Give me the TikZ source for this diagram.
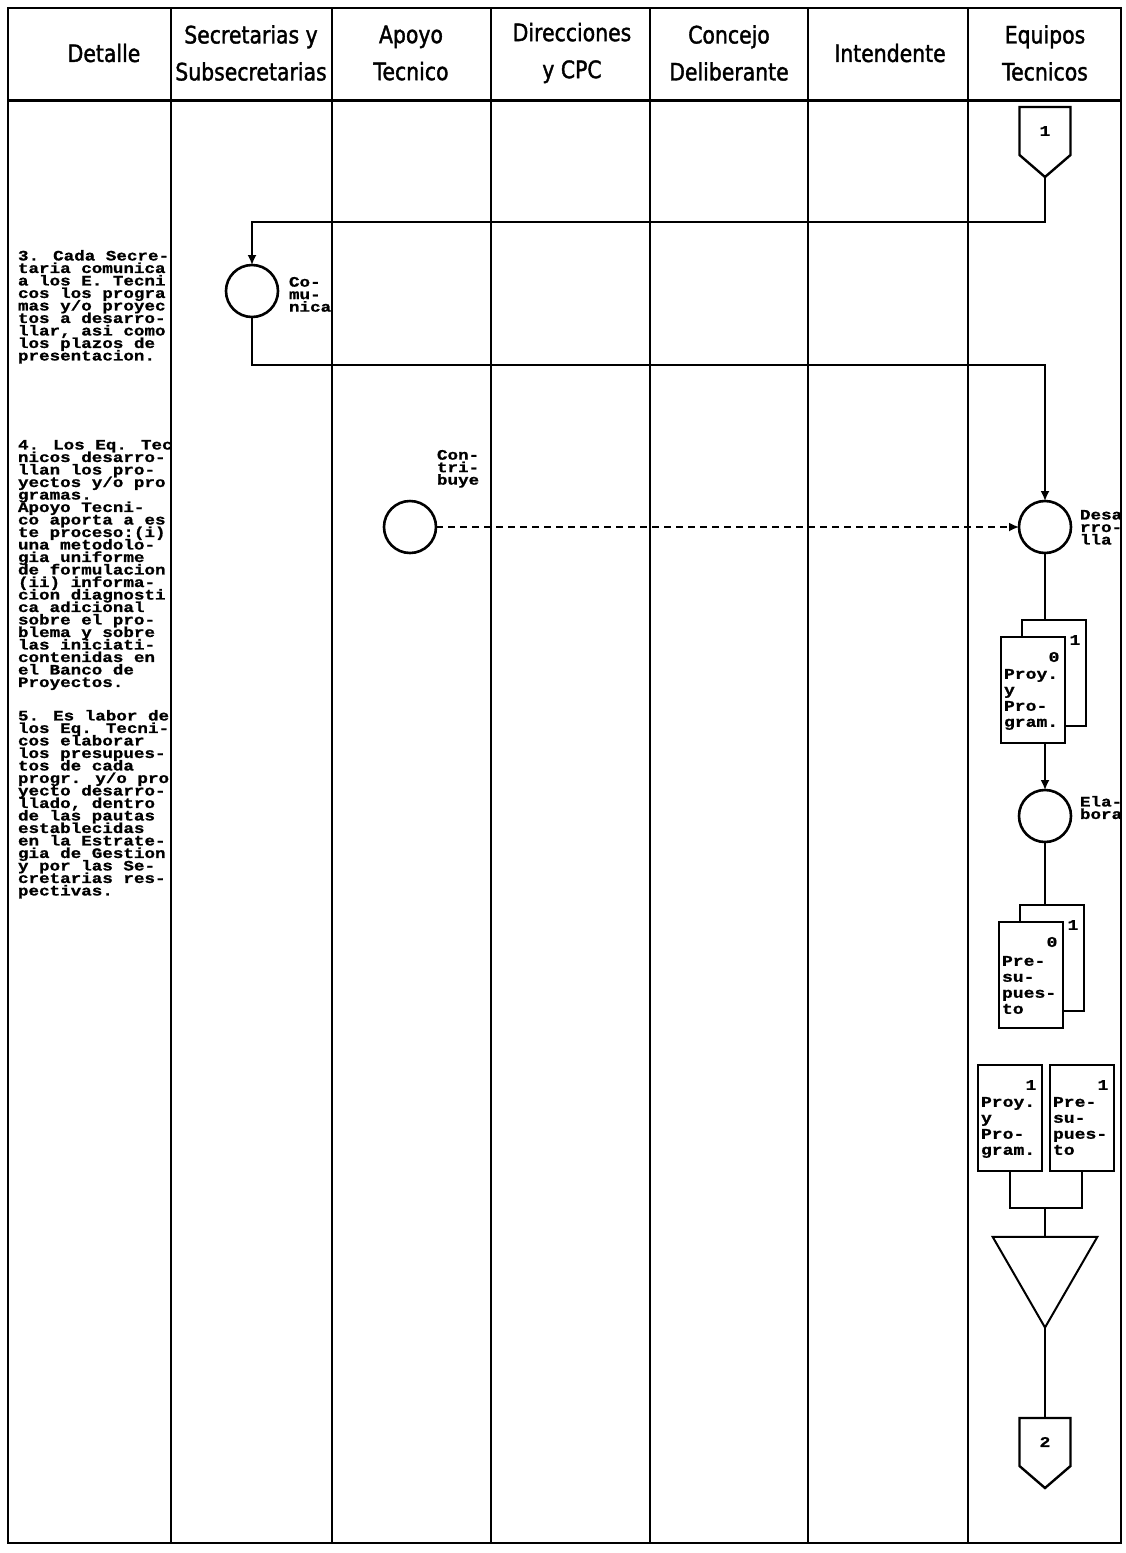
\documentclass[tikz,border=0pt]{standalone}
\usepackage{fontspec}
\usetikzlibrary{arrows.meta,shapes.geometric}
\newfontfamily\dotfont[FakeStretch=1.22,FakeBold=1]{Liberation Mono}
\newfontfamily\headfont[FakeStretch=0.85,FakeBold=1.5]{DejaVu Sans}
\newcommand\dotsize{\dotfont\bfseries\fontsize{7.2}{6.25}\selectfont}
\newcommand\docsize{\dotfont\bfseries\fontsize{7.4}{8}\selectfont}
\lineskiplimit=-100pt
\begin{document}
\begin{tikzpicture}[x=0.5pt,y=-0.5pt,every node/.style={inner sep=0pt,outer sep=0pt},
	lane/.style={line width=0.8pt},
	flow/.style={line width=0.9pt},
	tip/.style={-{Latex[length=5pt,width=4.5pt]}},
	head/.style={font=\headfont\fontsize{12}{18.5}\selectfont,align=center},
	note/.style={font=\dotsize,align=left,anchor=north west},
	act/.style={circle,draw,line width=1.3pt,minimum size=26pt},
	doc/.style={draw,fill=white,line width=1pt,minimum width=32pt,minimum height=53pt},
	dtext/.style={font=\docsize,align=left,anchor=north west},
	conn/.style={minimum width=25.5pt,minimum height=24pt,font=\docsize}]
	\useasboundingbox (0,0) rectangle (1125,1553);
	% frame and lanes
	\draw[line width=1.2pt] (8,8) rectangle (1121,1543);
	\draw[line width=1.5pt] (8,100) -- (1121,100);
	\foreach \x in {171,332,491,650,808,968}
		\draw[lane] (\x,8) -- (\x,1543);
	\foreach \x/\t [count=\i] in {104/Detalle,251/{Secretarias y\\Subsecretarias},411/{Apoyo\\Tecnico},
			572/{Direcciones\\y CPC},729/{Concejo\\Deliberante},890/Intendente,1045/{Equipos\\Tecnicos}}
		\node[head] (h\i) at (\x,53) {\t};
	% detalle
	\node[note] (n3) at (18,250) {3. Cada Secre-\\taria comunica\\a los E. Tecni\\cos los progra\\mas y/o proyec\\tos a desarro-\\llar, asi como\\los plazos de\\presentacion.};
	\node[note] (n4) at (18,440) {4. Los Eq. Tec\\nicos desarro-\\llan los pro-\\yectos y/o pro\\gramas.\\Apoyo Tecni-\\co aporta a es\\te proceso:(i)\\una metodolo-\\gia uniforme\\de formulacion\\(ii) informa-\\cion diagnosti\\ca adicional\\sobre el pro-\\blema y sobre\\las iniciati-\\contenidas en\\el Banco de\\Proyectos.};
	\node[note] (n5) at (18,710) {5. Es labor de\\los Eq. Tecni-\\cos elaborar\\los presupues-\\tos de cada\\progr. y/o pro\\yecto desarro-\\llado, dentro\\de las pautas\\establecidas\\en la Estrate-\\gia de Gestion\\y por las Se-\\cretarias res-\\pectivas.};
	% connector 1
	\node[conn] (c1) at (1045,131) {1};
	\coordinate (c1tip) at ([yshift=-11pt]c1.south);
	\draw[line width=1.2pt] (c1.north west) -- (c1.south west) -- (c1tip) -- (c1.south east) -- (c1.north east) -- cycle;
	% activities
	\node[act] (comm) at (252,291) {};
	\node[note] at (289,277) {Co-\\mu-\\nica};
	\node[act] (contr) at (410,527) {};
	\node[note] at (437,450) {Con-\\tri-\\buye};
	\node[act] (desa) at (1045,527) {};
	\node[note] at (1080,510) {Desa\\rro-\\lla};
	\node[act] (elab) at (1045,816) {};
	\node[note] at (1080,796) {Ela-\\bora};
	% documents
	\node[doc] (d1b) at (1054,673) {};
	\node[doc] (d1) at (1033,690) {};
	\node[doc] (d2b) at (1052,958) {};
	\node[doc] (d2) at (1031,975) {};
	\node[doc] (d3) at (1010,1118) {};
	\node[doc] (d4) at (1082,1118) {};
	\foreach \d/\n in {d1b/1,d1/0,d2b/1,d2/0,d3/1,d4/1}
		\node[font=\docsize] at ([xshift=-5.5pt,yshift=-10pt]\d.north east) {\n};
	\node[dtext] at ([xshift=1.5pt,yshift=-16pt]d1.north west) {Proy.\\y\\Pro-\\gram.};
	\node[dtext] at ([xshift=1.5pt,yshift=-17pt]d2.north west) {Pre-\\su-\\pues-\\to};
	\node[dtext] at ([xshift=1.5pt,yshift=-16pt]d3.north west) {Proy.\\y\\Pro-\\gram.};
	\node[dtext] at ([xshift=1.5pt,yshift=-16pt]d4.north west) {Pre-\\su-\\pues-\\to};
	% archive and connector 2
	\node[regular polygon,regular polygon sides=3,shape border rotate=180,draw,line width=1pt,minimum size=60.5pt] (tri) at (1045,1267) {};
	\node[conn] (c2) at (1045,1442) {2};
	\coordinate (c2tip) at ([yshift=-11pt]c2.south);
	\draw[line width=1.2pt] (c2.north west) -- (c2.south west) -- (c2tip) -- (c2.south east) -- (c2.north east) -- cycle;
	\coordinate (jn) at (1045,1208);
	% flow
	\draw[flow,tip] (c1tip) -- ++(0,45) -| (comm);
	\draw[flow,tip] (comm) -- ++(0,74) -| (desa);
	\draw[flow,tip,dash pattern=on 3.5pt off 2.5pt] (contr) -- (desa);
	\draw[flow] (desa) -- (desa |- d1b.north);
	\draw[flow,tip] (elab |- d1.south) -- (elab);
	\draw[flow] (elab) -- (elab |- d2b.north);
	\draw[flow] (d3) |- (jn) -| (d4);
	\draw[flow] (jn) -- (tri);
	\draw[flow] (tri.south) -- (c2);
\end{tikzpicture}
\end{document}
